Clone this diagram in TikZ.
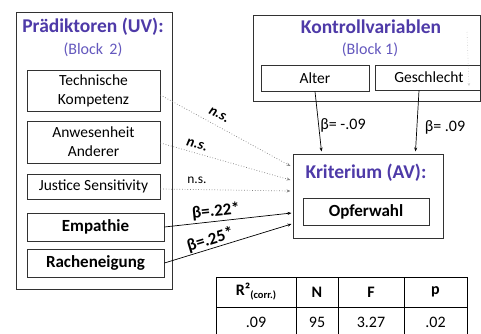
\documentclass[tikz,border=0pt]{standalone}
\usepackage{fontspec}
\setmainfont{Carlito}
\usetikzlibrary{calc,arrows.meta}
\definecolor{ttl}{RGB}{78,58,168}
\definecolor{blk}{RGB}{100,88,190}
\definecolor{edge}{RGB}{50,50,50}
\tikzset{
  bx/.style={draw=edge,line width=0.9pt,inner sep=0pt,align=center},
  big/.style={draw=edge,line width=1pt,inner sep=0pt},
  ttltext/.style={text=ttl,font=\fontsize{19.5}{21}\selectfont\bfseries,inner sep=0pt},
  blktext/.style={text=blk,font=\fontsize{16}{18}\selectfont,inner sep=0pt},
  reg/.style={font=\fontsize{15.5}{19}\selectfont},
  bld/.style={font=\fontsize{17}{19}\selectfont\bfseries},
  sol/.style={draw=black,line width=0.7pt,-{Stealth[length=4pt,width=3pt]}},
  dot/.style={draw=gray,line width=0.7pt,dotted,-{Stealth[length=4pt,width=3pt]}},
  lab/.style={inner sep=0pt},
  cell/.style={draw=black,line width=0.8pt,inner sep=0pt}
}
\begin{document}
\begin{tikzpicture}[x=1pt,y=-1pt]
\clip (0,0) rectangle (481,333);
\fill[white] (0,0) rectangle (481,333);
% left block
\node[big,minimum width=156pt,minimum height=277pt] (pred) at (94,150.5) {};
\node[ttltext] (predt) at (93,27) {Prädiktoren (UV):};
\node[blktext] (predb) at (93,50) {(Block\, 2)};
\node[bx,reg,minimum width=133pt,minimum height=41pt] (tech) at (93.5,90.5) {Technische\\Kompetenz};
\node[bx,reg,minimum width=133pt,minimum height=42pt] (anw) at (93.5,142) {Anwesenheit\\Anderer};
\node[bx,reg,minimum width=133pt,minimum height=25pt] (just) at (93.5,186.5) {Justice Sensitivity};
\node[bx,bld,minimum width=137pt,minimum height=28pt] (emp) at (95.5,227) {Empathie};
\node[bx,bld,minimum width=137pt,minimum height=28pt] (rach) at (95.5,263) {Racheneigung};
% control block
\node[big,minimum width=227pt,minimum height=86pt] (kon) at (366.5,58) {};
\node[ttltext] (kont) at (371,27) {Kontrollvariablen};
\node[blktext] (konb) at (370,50) {(Block 1)};
\node[bx,reg,minimum width=108pt,minimum height=26pt] (alter) at (315,78) {Alter};
\node[bx,reg,minimum width=108pt,minimum height=25pt] (ges) at (429,77.5) {Geschlecht};
% criterion
\node[big,minimum width=150pt,minimum height=84pt] (krit) at (368,196) {};
\node[ttltext] (kritt) at (366,173) {Kriterium (AV):};
\node[bx,bld,minimum width=126pt,minimum height=27pt] (opf) at (366,211.5) {Opferwahl};
% faint arrow
\coordinate (fa) at (467,32);
\coordinate (fb) at (469,86);
\draw[draw=gray!40,line width=0.6pt,dotted,-{Stealth[length=3pt,width=2.5pt]}] (fa) -- (fb);
% connectors
\draw[sol] (alter.south) -- ($(krit.north west)+(29,-2)$);
\draw[sol] ($(ges.south)+(-10,0)$) -- ($(krit.north west)+(123,-2)$);
\draw[dot] ($(tech.east)+(0,4.5)$) -- ($(krit.west)+(-2,-30)$);
\draw[dot] ($(anw.east)+(0,1)$) -- ($(krit.west)+(-2,-16)$);
\draw[dot] ($(just.east)+(0,2.5)$) -- ($(krit.west)+(-2,-5)$);
\draw[sol] (emp.east) -- ($(krit.west)+(-1,17)$);
\draw[sol] (rach.east) -- ($(krit.west)+(-1,28)$);
% labels
\node[lab,font=\fontsize{14.5}{16}\selectfont\bfseries\itshape,rotate=-27] (l1) at (219,115) {n.s.};
\node[lab,font=\fontsize{14.5}{16}\selectfont\bfseries\itshape,rotate=-15] (l2) at (197,145) {n.s.};
\node[lab,font=\fontsize{13.5}{15}\selectfont] (l3) at (197,180.5) {n.s.};
\node[lab,font=\fontsize{17}{19}\selectfont\bfseries,rotate=6] (l4) at (216,211.5) {β=.22*};
\node[lab,font=\fontsize{17}{19}\selectfont\bfseries,rotate=17] (l5) at (210.5,240) {β=.25*};
\node[lab,font=\fontsize{16}{18}\selectfont] (l6) at (343,125) {β= -.09};
\node[lab,font=\fontsize{16}{18}\selectfont] (l7) at (445,127) {β= .09};
% table
\foreach \xa/\xb/\n in {216/296/a,296/338/b,338/404/c,404/467/d}{
  \node[cell,minimum width={\xb-\xa},minimum height=30pt] (h\n) at ({(\xa+\xb)/2},292) {};
  \node[cell,minimum width={\xb-\xa},minimum height=30pt] (r\n) at ({(\xa+\xb)/2},322) {};
}
\node[inner sep=0pt,font=\fontsize{16}{18}\selectfont\bfseries] at (ha) {R²\raisebox{-3pt}{\fontsize{10.5}{12}\selectfont(corr.)}};
\node[inner sep=0pt,font=\fontsize{16}{18}\selectfont\bfseries] at (hb) {N};
\node[inner sep=0pt,font=\fontsize{16}{18}\selectfont\bfseries] at (hc) {F};
\node[inner sep=0pt,font=\fontsize{16}{18}\selectfont\bfseries] at (hd) {p};
\node[inner sep=0pt,font=\fontsize{16}{18}\selectfont] at (ra) {.09};
\node[inner sep=0pt,font=\fontsize{16}{18}\selectfont] at (rb) {95};
\node[inner sep=0pt,font=\fontsize{16}{18}\selectfont] at (rc) {3.27};
\node[inner sep=0pt,font=\fontsize{16}{18}\selectfont] at (rd) {.02};
\end{tikzpicture}
\end{document}
